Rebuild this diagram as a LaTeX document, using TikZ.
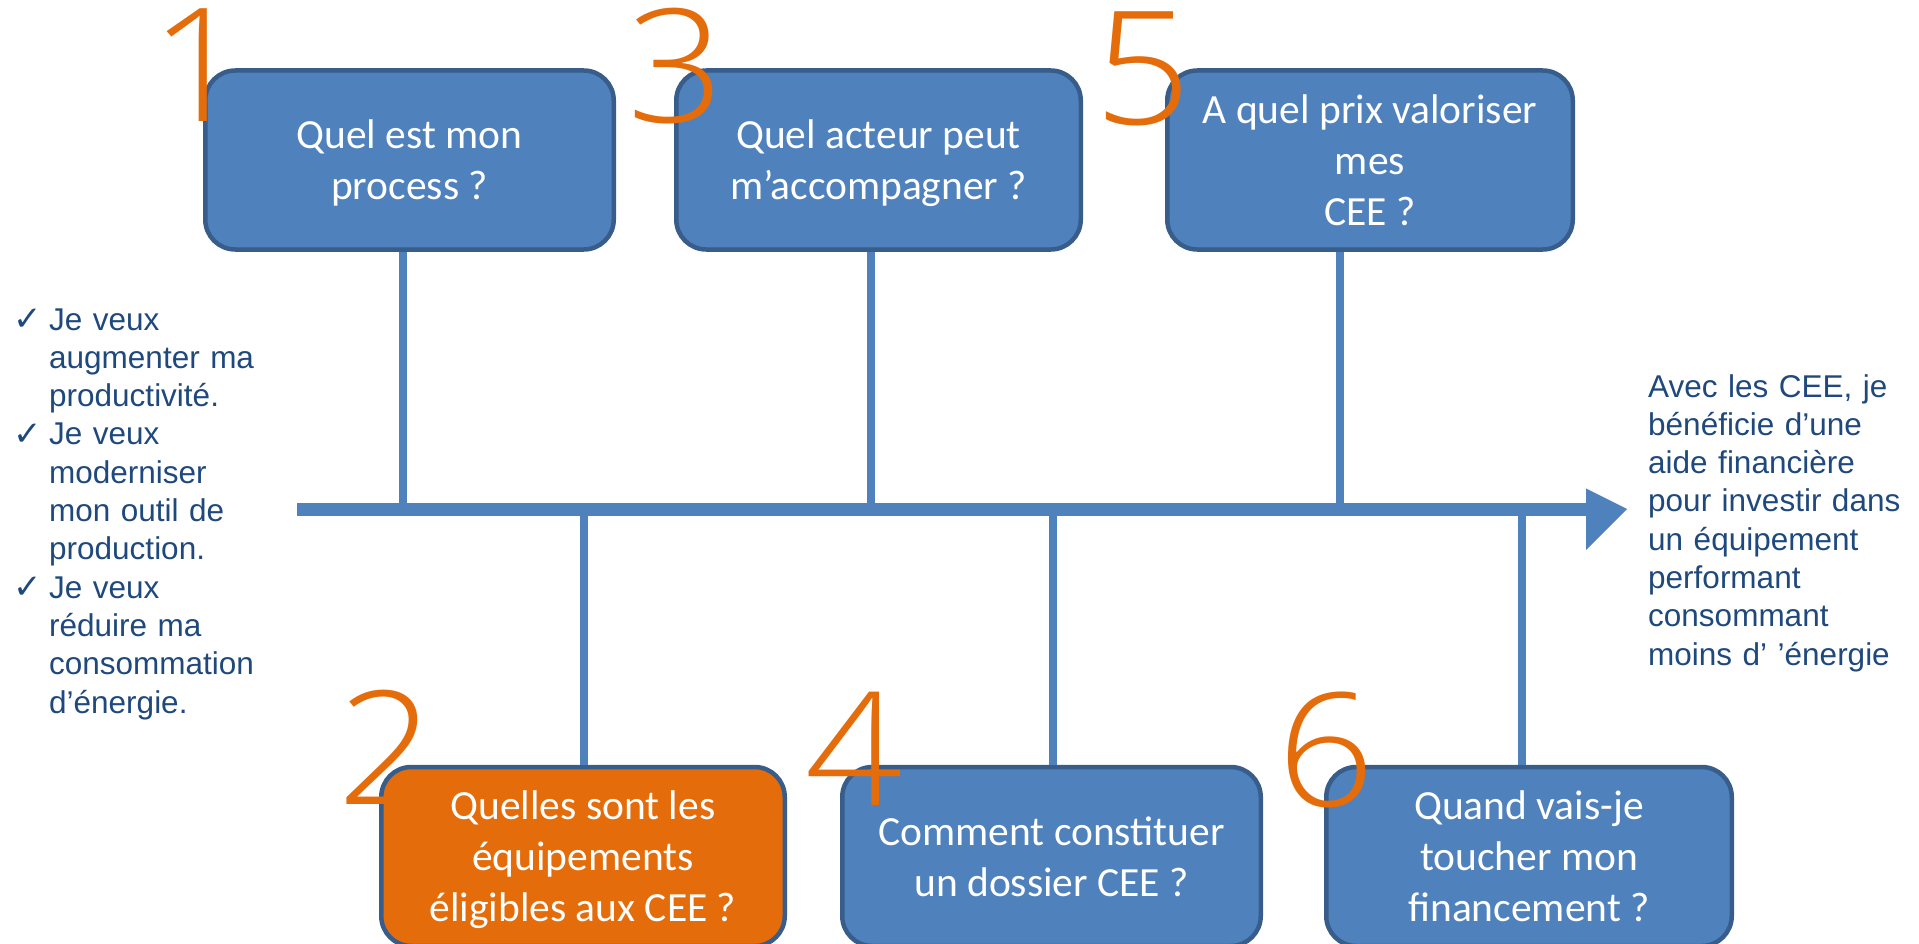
\documentclass[tikz,border=0pt]{standalone}
\usepackage{fontspec}
\newfontfamily\boxfont{Carlito}
\IfFontExistsTF{Open Sans Light}{\newfontfamily\numfont{Open Sans Light}}{\newfontfamily\numfont{Open Sans}}
\newfontfamily\sidefont{Liberation Sans}
\newfontfamily\checkfont{DejaVu Sans}
\definecolor{boxfill}{HTML}{4F81BD}
\definecolor{boxline}{HTML}{385D8A}
\definecolor{orangefill}{HTML}{E46C0A}
\definecolor{sidetext}{HTML}{1F497D}
\newcommand{\qlines}[1]{\raisebox{-4pt}[\height][\depth]{\begin{tabular}{@{}c@{}}#1\end{tabular}}}
\tikzset{
  qbox/.style={draw=boxline, line width=4.5pt, fill=boxfill, rounded corners=30pt,
    minimum height=179pt, inner sep=0pt, text=white,
    font=\boxfont\fontsize{41.5}{51}\selectfont},
  qorange/.style={qbox, fill=orangefill},
  digit/.style={anchor=base, inner sep=0pt, text=orangefill, xscale=1.08,
    font=\numfont\fontsize{158}{158}\selectfont},
  mainline/.style={draw=boxfill, line width=13pt},
  stemline/.style={draw=boxfill, line width=7.5pt},
  sidenote/.style={anchor=base west, inner sep=0pt, text=sidetext, align=left,
    text width=270pt, font=\sidefont\fontsize{31.5}{38.33}\selectfont},
  checkmark/.style={anchor=base west, inner sep=0pt, text=sidetext,
    font=\checkfont\fontsize{34}{34}\selectfont}
}
\begin{document}
\begin{tikzpicture}[x=1pt,y=-1pt]
\useasboundingbox (0,0) rectangle (1919,944);
% main axis
\coordinate (ms) at (297,509);
\coordinate (me) at (1586,509);
\coordinate (tip) at (1627,509);
\coordinate (j1) at (403,509);
\coordinate (j3) at (871,509);
\coordinate (j5) at (1340,509);
\coordinate (j2) at (584,509);
\coordinate (j4) at (1053,509);
\coordinate (j6) at (1522,509);
% boxes
\node[qbox, minimum width=408.5pt] (b1) at (409.5,160) {\qlines{Quel est mon\\process ?}};
\node[qbox, minimum width=404.5pt] (b3) at (878.5,160) {\qlines{Quel acteur peut\\m’accompagner ?}};
\node[qbox, minimum width=405.5pt] (b5) at (1370,160) {\qlines{A quel prix valoriser\\mes\\CEE ?}};
\node[qorange, minimum width=403.5pt] (b2) at (583,856.5) {\qlines{Quelles sont les\\équipements\\éligibles aux CEE ?}};
\node[qbox, minimum width=418.5pt] (b4) at (1051.5,856.5) {\qlines{Comment constituer\\un dossier CEE ?}};
\node[qbox, minimum width=405.5pt] (b6) at (1529,856.5) {\qlines{Quand vais-je\\toucher mon\\financement ?}};
% stems
\draw[stemline] (b1.south -| j1) -- (j1);
\draw[stemline] (b3.south -| j3) -- (j3);
\draw[stemline] (b5.south -| j5) -- (j5);
\draw[stemline] (j2) -- (b2.north -| j2);
\draw[stemline] (j4) -- (b4.north -| j4);
\draw[stemline] (j6) -- (b6.north -| j6);
\draw[mainline] (ms) -- (me);
\fill[boxfill] (me) ++(0,-20.5) -- (tip) -- ++(-41,41) -- cycle;
% digits
\node[digit] (d1) at (199,122) {1};
\node[digit] (d3) at (676,123) {3};
\node[digit] (d5) at (1143,125) {5};
\node[digit] (d2) at (386,804) {2};
\node[digit] (d4) at (854.5,805) {4};
\node[digit] (d6) at (1326,806) {6};
% side texts
\node[checkmark] (c1) at (13,330) {✓};
\node[checkmark] (c2) at (13,445) {✓};
\node[checkmark] (c3) at (13,598) {✓};
\node[sidenote] (left) at (49,330) {Je veux\\augmenter ma\\productivité.\\Je veux\\moderniser\\mon outil de\\production.\\Je veux\\réduire ma\\consommation\\d’énergie.};
\node[sidenote] (right) at (1648,397) {Avec les CEE, je\\bénéficie d’une\\aide financière\\pour investir dans\\un équipement\\performant\\consommant\\moins d’ ’énergie};
\end{tikzpicture}
\end{document}
